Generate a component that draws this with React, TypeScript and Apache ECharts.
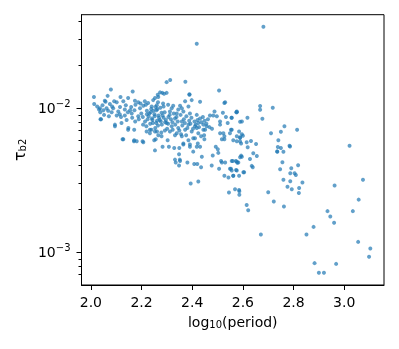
import React, { useEffect, useRef } from "react";
import * as echarts from "echarts";

// [log10(period), tau_b2]
const outliers: [number, number][] = [
  [2.681, 0.0369], [2.418, 0.0281],
];

const upperEdge: [number, number][] = [
  [2.299, 0.0152], [2.313, 0.0157], [2.373, 0.0153], [2.079, 0.0135], [2.165, 0.0131],
  [2.506, 0.0133], [2.012, 0.0120], [2.527, 0.0109], [2.574, 0.0094], [2.013, 0.0107],
  [2.389, 0.0124], [2.282, 0.0128], [2.299, 0.0128], [2.264, 0.0124], [2.066, 0.0122],
  [2.147, 0.0118], [2.055, 0.0113], [2.036, 0.0100], [2.038, 0.0084], [2.095, 0.0075],
  [2.125, 0.0061], [2.170, 0.0059], [2.204, 0.0059],
];

const leftCluster: [number, number][] = [
  [2.032, 0.0098], [2.049, 0.0097], [2.037, 0.0094], [2.088, 0.0100], [2.115, 0.0102], [2.134, 0.0098],
  [2.174, 0.0113], [2.187, 0.0110], [2.213, 0.0112], [2.226, 0.0109], [2.246, 0.0114], [2.253, 0.0118],
  [2.266, 0.0120], [2.273, 0.0129], [2.289, 0.0126], [2.260, 0.0105], [2.240, 0.0103], [2.207, 0.0104],
  [2.194, 0.0100], [2.172, 0.0097], [2.161, 0.0092], [2.146, 0.0094], [2.134, 0.0089], [2.114, 0.0091],
  [2.102, 0.0089], [2.082, 0.0094], [2.068, 0.0096], [2.040, 0.0084], [2.095, 0.0077], [2.121, 0.0079],
  [2.148, 0.0073], [2.175, 0.0081], [2.189, 0.0084], [2.205, 0.0087], [2.221, 0.0091], [2.231, 0.0092],
  [2.247, 0.0096], [2.259, 0.0097], [2.274, 0.0101], [2.287, 0.0103], [2.214, 0.0081], [2.224, 0.0084],
  [2.241, 0.0085], [2.252, 0.0088], [2.267, 0.0089], [2.279, 0.0093], [2.206, 0.0077], [2.219, 0.0075],
  [2.234, 0.0078], [2.245, 0.0079], [2.261, 0.0082], [2.272, 0.0083], [2.287, 0.0086], [2.239, 0.0071],
  [2.254, 0.0073], [2.265, 0.0076], [2.280, 0.0077], [2.293, 0.0080], [2.261, 0.0069], [2.278, 0.0068],
  [2.117, 0.0120], [2.128, 0.0112], [2.058, 0.0111], [2.092, 0.0112], [2.102, 0.0110], [2.075, 0.0107],
  [2.025, 0.0103], [2.052, 0.0090], [2.071, 0.0088], [2.084, 0.0103], [2.108, 0.0095], [2.046, 0.0105],
  [2.062, 0.0100], [2.119, 0.0087], [2.138, 0.0105], [2.155, 0.0097],
];

const lowerLeft: [number, number][] = [
  [2.147, 0.0071], [2.171, 0.0071], [2.220, 0.0069], [2.233, 0.0071], [2.233, 0.0067], [2.253, 0.0069],
  [2.266, 0.0065], [2.279, 0.0064], [2.292, 0.0070], [2.256, 0.0061], [2.250, 0.0060], [2.128, 0.0061],
  [2.171, 0.0060], [2.181, 0.0059], [2.207, 0.0058], [2.253, 0.0051], [2.283, 0.0054],
];

const centerCluster: [number, number][] = [
  [2.389, 0.0125], [2.372, 0.0112], [2.398, 0.0114], [2.431, 0.0111], [2.530, 0.0110], [2.352, 0.0104],
  [2.359, 0.0100], [2.385, 0.0103], [2.319, 0.0100], [2.312, 0.0095], [2.339, 0.0092], [2.365, 0.0095],
  [2.391, 0.0092], [2.418, 0.0090], [2.431, 0.0085], [2.424, 0.0079], [2.444, 0.0077], [2.457, 0.0075],
  [2.451, 0.0071], [2.411, 0.0075], [2.385, 0.0077], [2.359, 0.0081], [2.332, 0.0085], [2.306, 0.0087],
  [2.299, 0.0079], [2.319, 0.0075], [2.345, 0.0073], [2.372, 0.0071], [2.398, 0.0069], [2.424, 0.0067],
  [2.312, 0.0069], [2.339, 0.0067], [2.470, 0.0089], [2.483, 0.0089], [2.497, 0.0088], [2.510, 0.0081],
  [2.510, 0.0077], [2.556, 0.0086], [2.576, 0.0095], [2.596, 0.0081], [2.585, 0.0069], [2.556, 0.0071],
  [2.510, 0.0067], [2.527, 0.0064], [2.447, 0.0065], [2.444, 0.0071], [2.418, 0.0073], [2.431, 0.0054],
  [2.411, 0.0062], [2.391, 0.0054], [2.365, 0.0057], [2.488, 0.0095], [2.521, 0.0093], [2.540, 0.0079],
  [2.478, 0.0072], [2.533, 0.0087],
];

const denseCore: [number, number][] = [
  [2.228, 0.0088], [2.236, 0.0094], [2.243, 0.0083], [2.251, 0.0091], [2.258, 0.0079], [2.262, 0.0099],
  [2.269, 0.0086], [2.276, 0.0081], [2.283, 0.0089], [2.291, 0.0094], [2.296, 0.0083], [2.305, 0.0078],
  [2.311, 0.0090], [2.316, 0.0084], [2.322, 0.0080], [2.327, 0.0092], [2.333, 0.0077], [2.338, 0.0087],
  [2.343, 0.0081], [2.349, 0.0070], [2.354, 0.0090], [2.361, 0.0076], [2.367, 0.0084], [2.371, 0.0079],
  [2.377, 0.0088], [2.381, 0.0073], [2.388, 0.0082], [2.393, 0.0078], [2.397, 0.0086], [2.403, 0.0072],
  [2.409, 0.0081], [2.414, 0.0077], [2.421, 0.0083], [2.427, 0.0074], [2.436, 0.0080], [2.442, 0.0087],
  [2.449, 0.0082], [2.456, 0.0078], [2.462, 0.0084], [2.468, 0.0074], [2.323, 0.0071], [2.356, 0.0066],
  [2.376, 0.0065], [2.301, 0.0072], [2.265, 0.0110], [2.285, 0.0108], [2.305, 0.0106], [2.325, 0.0104],
  [2.345, 0.0098], [2.221, 0.0096], [2.199, 0.0092], [2.187, 0.0088], [2.163, 0.0086], [2.141, 0.0083],
  [2.159, 0.0102], [2.176, 0.0106], [2.196, 0.0108], [2.217, 0.0106], [2.238, 0.0099], [2.255, 0.0102],
];

const lowerMiddle: [number, number][] = [
  [2.303, 0.0060], [2.308, 0.0054], [2.329, 0.0053], [2.349, 0.0053], [2.348, 0.0048], [2.365, 0.0056],
  [2.391, 0.0056], [2.418, 0.0054], [2.422, 0.0057], [2.448, 0.0061], [2.435, 0.0064], [2.404, 0.0062],
  [2.385, 0.0060], [2.359, 0.0064], [2.332, 0.0065], [2.332, 0.0044], [2.335, 0.0042], [2.352, 0.0043],
  [2.348, 0.0040], [2.381, 0.0042], [2.408, 0.0041], [2.420, 0.0041], [2.438, 0.0046], [2.404, 0.0050],
  [2.477, 0.0040], [2.481, 0.0047], [2.503, 0.0049], [2.501, 0.0052], [2.493, 0.0054], [2.517, 0.0061],
  [2.527, 0.0061], [2.523, 0.0067], [2.549, 0.0067], [2.553, 0.0071], [2.562, 0.0060], [2.576, 0.0059],
  [2.576, 0.0064], [2.589, 0.0063], [2.593, 0.0057], [2.514, 0.0043], [2.517, 0.0042], [2.530, 0.0042],
  [2.506, 0.0038], [2.527, 0.0034], [2.556, 0.0037], [2.572, 0.0043], [2.582, 0.0042], [2.596, 0.0046],
  [2.576, 0.0037], [2.562, 0.0034], [2.585, 0.0034], [2.602, 0.0036], [2.543, 0.0033], [2.394, 0.0030],
  [2.424, 0.0031], [2.435, 0.0039], [2.351, 0.0044], [2.553, 0.0038], [2.560, 0.0043], [2.545, 0.0026],
];

const upperRight: [number, number][] = [
  [2.668, 0.01037], [2.668, 0.00978], [2.718, 0.01010], [2.618, 0.00860], [2.677, 0.00847],
  [2.589, 0.00807], [2.764, 0.00750], [2.814, 0.00710], [2.711, 0.00670], [2.750, 0.00688],
  [2.596, 0.00660], [2.600, 0.00645], [2.589, 0.00622], [2.589, 0.00587], [2.740, 0.00600],
  [2.632, 0.00593], [2.615, 0.00581], [2.652, 0.00565], [2.619, 0.00536], [2.738, 0.00539],
  [2.750, 0.00530], [2.784, 0.00550], [2.786, 0.00543], [3.021, 0.00550], [2.735, 0.00502],
  [2.576, 0.00938], [2.555, 0.00860],
];

const lowerRight: [number, number][] = [
  [2.593, 0.00469], [2.589, 0.00457], [2.556, 0.00431], [2.576, 0.00426], [2.578, 0.00419],
  [2.549, 0.00380], [2.573, 0.00373], [2.562, 0.00340], [2.605, 0.00359], [2.628, 0.00445],
  [2.635, 0.00398], [2.639, 0.00389], [2.641, 0.00487], [2.655, 0.00466], [2.736, 0.00499],
  [2.760, 0.00499], [2.756, 0.00422], [2.747, 0.00377], [2.791, 0.00383], [2.818, 0.00402],
  [2.787, 0.00354], [2.804, 0.00354], [2.809, 0.00344], [2.760, 0.00319], [2.787, 0.00311],
  [2.835, 0.00305], [2.776, 0.00285], [2.793, 0.00274], [2.822, 0.00279], [2.821, 0.00258],
  [2.962, 0.00291], [3.074, 0.00319], [2.569, 0.00274], [2.585, 0.00271], [2.586, 0.00265],
  [2.586, 0.00251], [2.700, 0.00261], [2.722, 0.00225], [2.762, 0.00208], [2.615, 0.00213],
  [2.621, 0.00196], [2.934, 0.00193], [2.945, 0.00177], [2.960, 0.00160], [3.034, 0.00193],
  [3.057, 0.00232], [2.879, 0.00150], [2.851, 0.00133], [2.671, 0.00133], [3.055, 0.00118],
  [3.103, 0.00106], [3.098, 0.00093], [2.883, 0.00084], [2.968, 0.00083], [2.900, 0.00072],
  [2.920, 0.00072],
];

const xTicks = [2.0, 2.2, 2.4, 2.6, 2.8, 3.0];
const yMajorTicks = [0.001, 0.01];
const yMinorTicks = [
  0.0007, 0.0008, 0.0009,
  0.002, 0.003, 0.004, 0.005, 0.006, 0.007, 0.008, 0.009,
  0.02, 0.03, 0.04,
];
const xRange = [1.963, 3.157];
const yRange = [0.000592, 0.0447];

const FONT = "DejaVu Sans";

function expLabel(v: number): string {
  const e = v > 0 ? Math.round(Math.log10(v)) : Math.round(v);
  const s = e < 0 ? "\u2212" + Math.abs(e) : String(e);
  return `{b|10}{s|${s}}`;
}

export default function App() {
  const ref = useRef<HTMLDivElement>(null);
  useEffect(() => {
    const chart = echarts.init(ref.current!, null, { renderer: "svg" });
    const allPoints = [
      ...outliers, ...upperEdge, ...leftCluster, ...lowerLeft, ...centerCluster,
      ...denseCore, ...lowerMiddle, ...upperRight, ...lowerRight,
    ];
    chart.setOption({
      animation: false,
      textStyle: { fontFamily: FONT, color: "#000" },
      grid: {
        left: 81.5, top: 14.7, width: 302.5, height: 270.3,
        show: true, borderColor: "#000", borderWidth: 1, backgroundColor: "transparent",
      },
      xAxis: {
        type: "value",
        min: xRange[0],
        max: xRange[1],
        axisLine: { show: true, lineStyle: { color: "#000", width: 1 } },
        axisTick: { show: true, length: 5, lineStyle: { color: "#000", width: 1 }, customValues: xTicks },
        axisLabel: {
          customValues: xTicks,
          formatter: (v: number) => v.toFixed(1),
          fontSize: 14, color: "#000", fontFamily: FONT, margin: 10,
        },
        splitLine: { show: false },
        name: "{a|log}{s|10}{a|(period)}",
        nameLocation: "middle",
        nameGap: 23,
        nameTextStyle: {
          rich: {
            a: { fontSize: 14, fontFamily: FONT, color: "#000", lineHeight: 14 },
            s: { fontSize: 10, fontFamily: FONT, color: "#000", lineHeight: 10, padding: [6, 0, 0, 0] },
          },
        },
      },
      yAxis: [
        {
          type: "log",
          logBase: 10,
          min: yRange[0],
          max: yRange[1],
          axisLine: { show: true, lineStyle: { color: "#000", width: 1 } },
          axisTick: { show: true, length: 5, lineStyle: { color: "#000", width: 1 }, customValues: yMajorTicks },
          axisLabel: {
            customValues: yMajorTicks,
            formatter: (v: number) => expLabel(v),
            margin: 11,
            rich: {
              b: { fontSize: 14, fontFamily: FONT, color: "#000", lineHeight: 14 },
              s: { fontSize: 10, fontFamily: FONT, color: "#000", lineHeight: 10, padding: [0, 0, 9, 0] },
            },
          },
          splitLine: { show: false },
          minorTick: { show: false },
          name: "{t|\u03c4}{s|b2}",
          nameLocation: "middle",
          nameRotate: 90,
          nameGap: 43,
          nameTextStyle: {
            rich: {
              t: { fontSize: 16, fontFamily: FONT, color: "#000", lineHeight: 16 },
              s: { fontSize: 10, fontFamily: FONT, color: "#000", lineHeight: 10, padding: [6, 0, 0, 0] },
            },
          },
        },
        {
          type: "log",
          logBase: 10,
          min: yRange[0],
          max: yRange[1],
          position: "left",
          axisLine: { show: false },
          axisTick: { show: true, length: 3, lineStyle: { color: "#000", width: 1 }, customValues: yMinorTicks },
          axisLabel: { show: false },
          splitLine: { show: false },
        },
      ],
      series: [
        {
          type: "scatter",
          xAxisIndex: 0,
          yAxisIndex: 0,
          data: allPoints,
          symbol: "circle",
          symbolSize: 4,
          itemStyle: { color: "#1f77b4", opacity: 0.7 },
          emphasis: { disabled: true },
        },
      ],
    });
    return () => chart.dispose();
  }, []);
  return (
    <div
      ref={ref}
      style={{ position: "fixed", left: 0, top: 0, width: 399, height: 349 }}
    />
  );
}
